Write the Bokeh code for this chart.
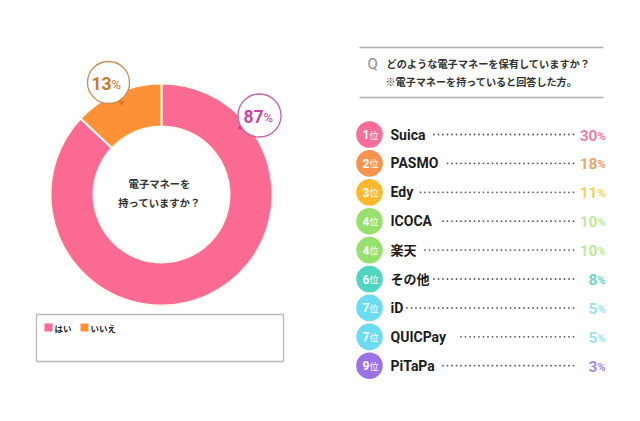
from bokeh.plotting import figure
from bokeh.models import Range1d
from bokeh.core.properties import value
from bokeh.embed import file_html
from bokeh.resources import INLINE
import math
import numpy as np

# ---- data ----
donut_labels = ["はい", "いいえ"]
donut_values = [87, 13]
donut_colors = ["#fb6a92", "#fd9137"]
center_lines = ["電子マネーを", "持っていますか？"]
q_lines = ["どのような電子マネーを保有していますか？", "※電子マネーを持っていると回答した方。"]
ranks = [1, 2, 3, 4, 4, 6, 7, 7, 9]
names = ["Suica", "PASMO", "Edy", "ICOCA", "楽天", "その他", "iD", "QUICPay", "PiTaPa"]
shares = [30, 18, 11, 10, 10, 8, 5, 5, 3]
rank_colors = ["#f96f9a", "#f7934c", "#fdb92e", "#97e06b", "#97e06b", "#4fd6c0", "#6cdcf2", "#6cdcf2", "#9a72e6"]
share_colors = ["#ec7fa8", "#eda36c", "#f6d35a", "#c0e69c", "#c0e69c", "#6fd5c8", "#9be3ee", "#9be3ee", "#a88be0"]
# where each dotted leader begins (layout, follows the label width)
leader_starts = [431, 444, 417, 439, 421, 433, 405, 458, 440]

JP = "Noto Sans CJK JP"
LATIN = "Roboto, 'Noto Sans CJK JP'"
def Y(py):
    return 421 - py

p = figure(width=632, height=413, x_range=Range1d(0, 632), y_range=Range1d(8, 421),
           output_backend="svg", toolbar_location=None, min_border=0,
           background_fill_color="white", border_fill_color="white", outline_line_color=None)
p.axis.visible = False
p.grid.visible = False

# ---- donut ----
cx, cy, r_out, r_in = 161, Y(194), 111, 68
total = sum(donut_values)
ang = math.pi / 2
for v, c in zip(donut_values, donut_colors):
    end = ang - 2 * math.pi * v / total
    p.annular_wedge(x=cx, y=cy, inner_radius=r_in, outer_radius=r_out, start_angle=end, end_angle=ang,
                    fill_color=c, line_color="#fff8f0", line_width=2)
    ang = end

def txt(x, y, s, size, color="#222222", font=JP, align="left", style="bold"):
    p.text(x=[x], y=[Y(y)], text=[s], text_font=value(font), text_font_size=f"{size}px", text_color=color,
           text_align=align, text_baseline="middle", text_font_style=style)

txt(159, 183, center_lines[0], 10.3, "#333333", align="center")
txt(159, 202, center_lines[1], 10.3, "#333333", align="center")

# ---- callouts ----
bubbles = [(259, 115, 21.5, "#c264a8", "#c8479a", donut_values[0], (240, 127), "#d8408f", "triangle", 4),
           (108, 82, 21, "#c98a4e", "#c47a30", donut_values[1], (121, 102), "#e8701f", "inverted_triangle", 3)]
for bx, by, br, edge, tc, val, tip, tipc, mk, off in bubbles:
    p.scatter(x=[tip[0]], y=[Y(tip[1])], marker=mk, size=6, fill_color=tipc, line_color=None)
    p.circle(x=[bx], y=[Y(by)], radius=br, fill_color="white", line_color=edge, line_width=1.3)
    txt(bx + off, by + 1, str(val), 17.5, tc, font=LATIN, align="right")
    txt(bx + off, by + 2, "%", 13, tc, font=LATIN, style="normal")

# ---- legend box ----
p.quad(left=36, right=283, top=Y(314), bottom=Y(361), fill_color="white", line_color="#b8b8b8", line_width=1.3)
for sx, tx, s, c in zip([44, 80], [54, 90], donut_labels, donut_colors):
    p.quad(left=sx, right=sx + 8, top=Y(323), bottom=Y(331), fill_color=c, line_color=None)
    txt(tx, 327, s, 8.5, "#222222")

# ---- question block ----
p.segment(x0=[359, 359], x1=[603, 603], y0=[Y(47), Y(97)], y1=[Y(47), Y(97)], line_color="#b0b0b0", line_width=1.3)
txt(367, 63, "Q", 15, "#8a8a8a", font=LATIN, style="normal")
txt(386, 63, q_lines[0], 10.2, "#333333")
txt(385, 81, q_lines[1], 10.1, "#333333")

# ---- ranking ----
for i, (rk, nm, sh, rc, sc, ls) in enumerate(zip(ranks, names, shares, rank_colors, share_colors, leader_starts)):
    y = 134 + i * 28.9
    p.circle(x=[369], y=[Y(y)], radius=13.3, fill_color=rc, line_color=None)
    txt(369, y, str(rk), 12, "#ffffff", font=LATIN, align="right")
    txt(369, y + 0.5, "位", 9, "#ffffff", style="normal")
    txt(390, y, nm, 13 if not nm.isascii() else 14, "#1c1c1c", font=LATIN)
    dots = np.arange(573, ls, -4.5)
    p.scatter(x=dots, y=[Y(y)] * len(dots), marker="circle", size=1.8, fill_color="#555555", line_color=None)
    txt(597, y + 0.5, str(sh), 15.5, sc, font=LATIN, align="right")
    txt(597, y + 1.5, "%", 11, sc, font=LATIN)

open("out.html", "w").write(file_html(p, INLINE))
